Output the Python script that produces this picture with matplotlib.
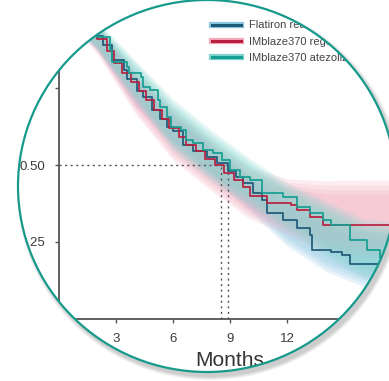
import numpy as np
import matplotlib
matplotlib.use("Agg")
import matplotlib.pyplot as plt
from matplotlib.lines import Line2D
from matplotlib.patches import Ellipse, PathPatch
from matplotlib.path import Path
from matplotlib.transforms import Affine2D
import matplotlib.patheffects as pe

plt.rcParams['font.family'] = ['Liberation Sans', 'DejaVu Sans']

W, H = 389, 381

# Kaplan-Meier step curves (months, survival probability)
flatiron_t = [0, 0.8, 1.4, 1.9, 2.3, 2.8, 3.4, 3.6, 4.1, 4.4, 4.9, 5.3, 5.7, 6.0, 6.5, 7.05,
              7.8, 8.3, 8.9, 9.3, 9.7, 10.2, 10.7, 10.95, 11.8, 12.5, 13.2, 13.3, 14.3, 14.9,
              15.3, 16.9, 17.4]
flatiron_s = [1.0, 0.98, 0.95, 0.92, 0.89, 0.84, 0.81, 0.78, 0.74, 0.72, 0.68, 0.65, 0.625, 0.61,
              0.565, 0.545, 0.525, 0.505, 0.48, 0.46, 0.44, 0.41, 0.386, 0.344, 0.32, 0.295,
              0.273, 0.224, 0.218, 0.208, 0.18, 0.175, 0.175]

rego_t = [0, 0.9, 1.5, 2.0, 2.5, 2.9, 3.3, 3.8, 4.2, 4.6, 5.0, 5.4, 5.8, 6.3, 6.7, 7.2, 7.7,
          8.2, 8.7, 9.2, 9.7, 10.05, 10.95, 12.2, 12.5, 13.2, 13.9, 17.4]
rego_s = [1.0, 0.975, 0.945, 0.91, 0.87, 0.83, 0.80, 0.77, 0.74, 0.71, 0.68, 0.65, 0.62, 0.59,
          0.565, 0.545, 0.52, 0.50, 0.475, 0.45, 0.43, 0.40, 0.377, 0.37, 0.354, 0.33, 0.305, 0.305]

atezo_t = [0, 0.8, 1.5, 2.0, 2.7, 2.8, 3.6, 3.7, 4.3, 4.4, 4.8, 5.2, 5.3, 5.7, 5.9, 6.4, 6.7,
           7.05, 7.6, 8.1, 8.6, 9.0, 9.5, 10.05, 10.7, 11.8, 12.5, 13.2, 13.9, 14.3, 15.3,
           16.2, 16.9, 17.4]
atezo_s = [1.0, 0.98, 0.95, 0.916, 0.873, 0.834, 0.818, 0.80, 0.786, 0.753, 0.744, 0.711, 0.688,
           0.656, 0.623, 0.614, 0.581, 0.571, 0.549, 0.539, 0.516, 0.484, 0.46, 0.45, 0.41,
           0.396, 0.364, 0.344, 0.32, 0.305, 0.256, 0.224, 0.198, 0.198]

# 95% confidence bands
band_t = [0, 2, 4, 6, 8, 10, 12, 14, 16, 17.4]
flatiron_lo = [1.0, 0.88, 0.70, 0.57, 0.47, 0.36, 0.25, 0.17, 0.12, 0.11]
flatiron_hi = [1.0, 0.95, 0.79, 0.66, 0.56, 0.46, 0.38, 0.31, 0.27, 0.26]
rego_lo = [1.0, 0.87, 0.68, 0.53, 0.43, 0.34, 0.29, 0.24, 0.22, 0.22]
rego_hi = [1.0, 0.95, 0.80, 0.67, 0.57, 0.48, 0.44, 0.43, 0.43, 0.43]
atezo_lo = [1.0, 0.88, 0.72, 0.56, 0.46, 0.38, 0.30, 0.22, 0.15, 0.14]
atezo_hi = [1.0, 0.96, 0.83, 0.70, 0.60, 0.51, 0.43, 0.37, 0.31, 0.30]

labels = ["Flatiron real-world cohort", "IMblaze370 regorafenib", "IMblaze370 atezolizumab"]
line_colors = ["#1f5a78", "#b8203f", "#169e92"]
band_colors = ["#8cc6e2", "#f4a9bd", "#7fd4cc"]

median_level = 0.5
median_months = [8.55, 8.9]

x_ticks = [0, 3, 6, 9, 12, 15]
y_ticks = [0, 0.25, 0.5, 0.75, 1.0]
y_ticklabels = ["0.00", "0.25", "0.50", "0.75", "1.00"]

fig = plt.figure(figsize=(W / 100, H / 100), dpi=100)
fig.patch.set_facecolor("white")

x0, y0 = 59, 319          # pixel position of the origin
px_month, px_unit = 19.0, 308.0
ax = fig.add_axes([x0 / W, (H - y0) / H, 1 - x0 / W, y0 / H])
ax.set_xlim(0, (W - x0) / px_month)
ax.set_ylim(0, y0 / px_unit)

series = [(flatiron_t, flatiron_s, flatiron_lo, flatiron_hi),
          (rego_t, rego_s, rego_lo, rego_hi),
          (atezo_t, atezo_s, atezo_lo, atezo_hi)]

# soft-edged bands: stack a few widths of the same interval
for (t, s, lo, hi), bc in zip(series, band_colors):
    lo, hi = np.array(lo), np.array(hi)
    mid, half = (lo + hi) / 2, (hi - lo) / 2
    for k in [1.2, 1.05, 0.9, 0.75]:
        ax.fill_between(band_t, mid - k * half, mid + k * half, color=bc, alpha=0.2, lw=0)

handles = []
for (t, s, lo, hi), lc, bc, lab in zip(series, line_colors, band_colors, labels):
    ax.step(t, s, where="post", color=lc, lw=1.25, zorder=3)
    handles.append(Line2D([], [], color=lc, lw=2.2, label=lab,
                          path_effects=[pe.Stroke(linewidth=4.5, foreground=bc), pe.Normal()]))

# medians
ax.plot([0, median_months[1]], [median_level, median_level], color="#555555", lw=1,
        ls=(0, (1.5, 2.5)), zorder=2)
for m in median_months:
    ax.plot([m, m], [0, median_level], color="#555555", lw=1, ls=(0, (1.5, 2.5)), zorder=2)

for side in ["top", "right"]:
    ax.spines[side].set_visible(False)
for side in ["left", "bottom"]:
    ax.spines[side].set_color("#555555")
    ax.spines[side].set_linewidth(1.3)
ax.set_xticks(x_ticks)
ax.set_yticks(y_ticks)
ax.set_yticklabels(y_ticklabels)
ax.tick_params(length=3, width=1, color="#555555", labelsize=9.5, labelcolor="#3a3a3a", pad=7)
ax.set_xlabel("Months", fontsize=15, color="#333333")
ax.xaxis.set_label_coords(9.0 / ((W - x0) / px_month), -0.1)
ax.set_facecolor("none")

leg = fig.legend(handles=handles, loc="upper left", bbox_to_anchor=(208 / W, 1 - 16 / H),
                 frameon=False, fontsize=8, handlelength=2.6, handletextpad=0.7,
                 labelspacing=0.55, borderaxespad=0)
for txt in leg.get_texts():
    txt.set_color("#444444")

# round frame: white mask outside, soft shadow, teal ring
tr = Affine2D().scale(1, -1).translate(0, H)
cx, cy, rx, ry = 207, 186, 189, 186
ang = np.linspace(0, 2 * np.pi, 400)
ring = np.column_stack([cx + rx * np.cos(ang), cy + ry * np.sin(ang)])[::-1]
outer = np.array([[-20, -20], [W + 20, -20], [W + 20, H + 20], [-20, H + 20], [-20, -20]])
verts = np.vstack([outer, ring, ring[:1]])
codes = ([Path.MOVETO] + [Path.LINETO] * 3 + [Path.CLOSEPOLY]
         + [Path.MOVETO] + [Path.LINETO] * (len(ring) - 1) + [Path.CLOSEPOLY])
mask = PathPatch(Path(verts, codes), facecolor="white", edgecolor="none", transform=tr, zorder=10)
fig.add_artist(mask)

for d in [2, 4, 6, 8]:
    sh = Ellipse((cx + 3, cy + 4), 2 * rx + d, 2 * ry + d, facecolor="#000000", alpha=0.05,
                 edgecolor="none", transform=tr, zorder=11)
    fig.add_artist(sh)
    sh.set_clip_path(mask)

fig.add_artist(Ellipse((cx, cy), 2 * rx, 2 * ry, facecolor="none", edgecolor="#169a8c",
                       lw=1.6, transform=tr, zorder=12))

fig.savefig("out.png", dpi=100)
